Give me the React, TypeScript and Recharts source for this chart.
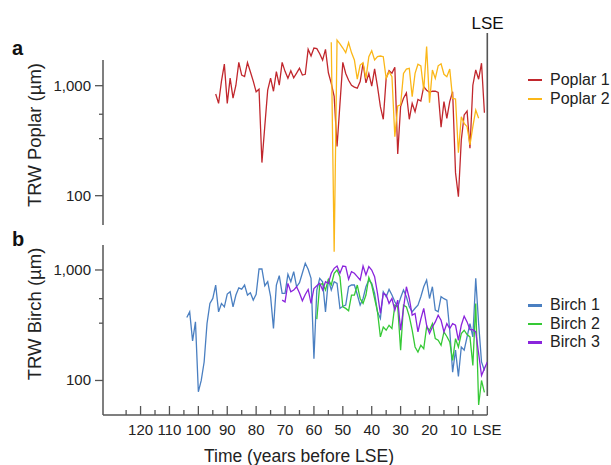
import React from "react";
import { LineChart, Line, XAxis, YAxis, ReferenceLine, Legend } from "recharts";

// ring widths in µm, each series listed from its first year (years before LSE) down to its last
const poplar1From = 94;
const poplar1 = [
  840, 690, 1100, 1570, 690, 1170, 770, 1010, 1630, 1250,
  1210, 1620, 1340, 1100, 880, 930, 200, 430, 910, 1170,
  890, 1340, 1010, 1630, 1350, 1170, 1370, 1180, 1300, 1440,
  1250, 1270, 2140, 1860, 2200, 2170, 1950, 1710, 2140, 1310,
  1050, 800, 280, 680, 1630, 1290, 1120, 1010, 970, 950,
  1090, 1600, 1060, 1290, 990, 1420, 980, 645, 495, 1170,
  1370, 1300, 1470, 240, 645, 770, 860, 495, 690, 580,
  750, 725, 980, 910, 870, 890, 890, 870, 420, 716,
  505, 716, 880, 162, 98, 321, 542, 588, 270, 1010,
  1390, 1145, 1600, 567,
];

const poplar2From = 54;
const poplar2 = [
  2480, 31, 2600, 2400, 2200, 1995, 2460, 2000, 1713, 1145,
  1542, 1620, 1166, 1836, 2080, 1713, 1836, 1861, 1836, 1166,
  1340, 1207, 344, 655, 670, 1294, 1415, 1439, 794, 1294,
  1567, 1516, 912, 2265, 700, 1390, 1166, 1516, 1580, 1270,
  1207, 1415, 767, 757, 246, 522, 455, 424, 289, 424,
  601, 505,
];

const birch1From = 104;
const birch1 = [
  372, 418, 228, 339, 79, 100, 147, 328, 498, 553,
  731, 418, 498, 464, 605, 635, 464, 593, 690, 671,
  731, 593, 622, 534, 601, 1021, 1021, 720, 783, 573,
  295, 731, 888, 614, 614, 914, 783, 966, 705, 767,
  940, 1151, 1014, 839, 157, 658, 839, 783, 418, 823,
  658, 783, 757, 449, 470, 481, 705, 731, 731, 600,
  481, 552, 705, 811, 757, 614, 418, 364, 635, 573,
  667, 593, 515, 464, 560, 658, 573, 464, 418, 450,
  481, 573, 705, 811, 552, 705, 433, 418, 573, 550,
  534, 285, 119, 188, 109, 201, 188, 248, 327, 248,
  839, 327, 147, 123,
];

const birch2From = 59;
const birch2 = [
  359, 731, 757, 658, 823, 731, 933, 1000, 870, 464,
  449, 427, 593, 593, 731, 552, 498, 593, 857, 731,
  552, 418, 248, 305, 285, 316, 295, 481, 464, 188,
  481, 464, 380, 285, 201, 181, 208, 194, 305, 285,
  327, 239, 231, 208, 275, 250, 223, 152, 239, 201,
  266, 285, 260, 248, 137, 498, 60, 100, 78,
];

const birch3From = 71;
const birch3 = [
  534, 514, 757, 635, 658, 705, 620, 526, 600, 666,
  498, 680, 720, 757, 658, 783, 757, 935, 1035, 1086,
  933, 1086, 1072, 823, 966, 933, 870, 811, 1086, 902,
  1072, 1000, 870, 614, 404, 614, 593, 498, 552, 433,
  534, 285, 449, 705, 552, 390, 404, 275, 360, 449,
  316, 266, 305, 339, 390, 351, 275, 327, 295, 327,
  316, 231, 316, 382, 339, 288, 288, 275, 175, 111,
  128, 147,
];

const yTicks = [78, 100, 330, 550, 770, 1000];
const xTicks = [0, 5, 10, 15, 20, 25, 30, 35, 40, 45, 50, 55, 60, 65, 70, 75, 80, 85, 90, 95, 100, 105, 110, 115, 120, 125];

const FONT = "'Liberation Sans', Arial, Helvetica, sans-serif";
const AXIS = "#555";
const W = 611;
const H = 465;

function toPoints(from: number, values: number[]) {
  return values.map((v, i) => ({ year: from - i, trw: v }));
}

const YTick = (props: any) => {
  const { x, y, payload } = props;
  const v = payload.value;
  const major = v === 100 || v === 1000;
  return (
    <g>
      <line x1={x - (major ? 8 : 4)} x2={x} y1={y} y2={y} stroke={AXIS} strokeWidth={1.3} />
      {major && (
        <text x={x - 12} y={y + 5} textAnchor="end" fontSize={15} fontFamily={FONT} fill="#222">
          {v === 1000 ? "1,000" : "100"}
        </text>
      )}
    </g>
  );
};

const XTick = (props: any) => {
  const { x, y, payload } = props;
  const v = payload.value;
  const major = v % 10 === 0;
  return (
    <g>
      <line x1={x} x2={x} y1={y} y2={y - (major ? 9 : 5)} stroke={AXIS} strokeWidth={1.3} />
      {major && (
        <text x={x} y={y + 20} textAnchor="middle" fontSize={15} fontFamily={FONT} fill="#222">
          {v === 0 ? "LSE" : v}
        </text>
      )}
    </g>
  );
};

const legendBox = (gap: number) => (props: any) => (
  <div style={{ fontFamily: FONT }}>
    {props.payload.map((p: any, i: number) => (
      <div key={i} style={{ display: "flex", alignItems: "center", height: gap }}>
        <span style={{ display: "inline-block", width: 14, height: 2.5, background: p.color, marginRight: 8 }} />
        <span style={{ fontSize: 16, color: "#222" }}>{p.value}</span>
      </div>
    ))}
  </div>
);

export default function App() {
  const lineProps = { type: "linear" as const, dataKey: "trw", dot: false, strokeWidth: 1.3, isAnimationActive: false };
  return (
    <div style={{ position: "absolute", left: 0, top: 0, width: W, height: H, background: "#fff" }}>
      {/* panel a */}
      <div style={{ position: "absolute", left: 0, top: 0 }}>
        <LineChart width={W} height={H} margin={{ top: 33, right: 123.7, bottom: 69, left: 0 }}>
          <XAxis dataKey="year" type="number" domain={[0, 133]} reversed hide allowDataOverflow />
          <YAxis
            type="number"
            scale="log"
            domain={[1.51, 3013]}
            allowDataOverflow
            ticks={yTicks}
            axisLine={false}
            tickLine={false}
            tickSize={0}
            tickMargin={0}
            width={103}
            tick={<YTick />}
          />
          <ReferenceLine segment={[{ x: 133, y: 54.2 }, { x: 133, y: 1712 }]} stroke={AXIS} strokeWidth={1.5} ifOverflow="visible" />
          <ReferenceLine segment={[{ x: 0, y: 1.51 }, { x: 0, y: 3013 }]} stroke={AXIS} strokeWidth={1.6} ifOverflow="visible" />
          <Line {...lineProps} data={toPoints(poplar1From, poplar1)} name="Poplar 1" stroke="#c1272d" />
          <Line {...lineProps} data={toPoints(poplar2From, poplar2)} name="Poplar 2" stroke="#fbb718" />
          <Legend layout="vertical" align="center" verticalAlign="middle" wrapperStyle={{ left: 528, top: 70.5, width: 82 }} content={legendBox(19)} />
        </LineChart>
      </div>
      {/* panel b */}
      <div style={{ position: "absolute", left: 0, top: 0 }}>
        <LineChart width={W} height={H} margin={{ top: 245, right: 123.7, bottom: 0, left: 0 }}>
          <XAxis
            dataKey="year"
            type="number"
            domain={[0, 133]}
            reversed
            allowDataOverflow
            ticks={xTicks}
            height={50}
            tickLine={false}
            tickSize={0}
            tickMargin={0}
            stroke={AXIS}
            strokeWidth={1.5}
            tick={<XTick />}
            interval={0}
          />
          <YAxis
            type="number"
            scale="log"
            domain={[48.7, 1683]}
            allowDataOverflow
            ticks={yTicks}
            tickLine={false}
            tickSize={0}
            tickMargin={0}
            width={103}
            stroke={AXIS}
            strokeWidth={1.5}
            tick={<YTick />}
          />
          <Line {...lineProps} data={toPoints(birch1From, birch1)} name="Birch 1" stroke="#4a7fc1" />
          <Line {...lineProps} data={toPoints(birch2From, birch2)} name="Birch 2" stroke="#35c935" />
          <Line {...lineProps} data={toPoints(birch3From, birch3)} name="Birch 3" stroke="#8a24dc" />
          <Legend layout="vertical" align="center" verticalAlign="middle" wrapperStyle={{ left: 528, top: 296, width: 82 }} content={legendBox(18.5)} />
        </LineChart>
      </div>
      <svg width={W} height={H} style={{ position: "absolute", left: 0, top: 0, pointerEvents: "none" }}>
        <text x={12} y={55} fontSize={20} fontWeight="bold" fontFamily={FONT} fill="#111">a</text>
        <text x={12} y={246} fontSize={20} fontWeight="bold" fontFamily={FONT} fill="#111">b</text>
        <text x={487.5} y={29} textAnchor="middle" fontSize={17} fontFamily={FONT} fill="#111">LSE</text>
        <text x={41} y={135} transform="rotate(-90 41 135)" textAnchor="middle" fontSize={18.5} fontFamily={FONT} fill="#222">TRW Poplar (µm)</text>
        <text x={41} y={314} transform="rotate(-90 41 314)" textAnchor="middle" fontSize={18.5} fontFamily={FONT} fill="#222">TRW Birch (µm)</text>
        <text x={299} y={462} textAnchor="middle" fontSize={17.5} fontFamily={FONT} fill="#222">Time (years before LSE)</text>
      </svg>
    </div>
  );
}
